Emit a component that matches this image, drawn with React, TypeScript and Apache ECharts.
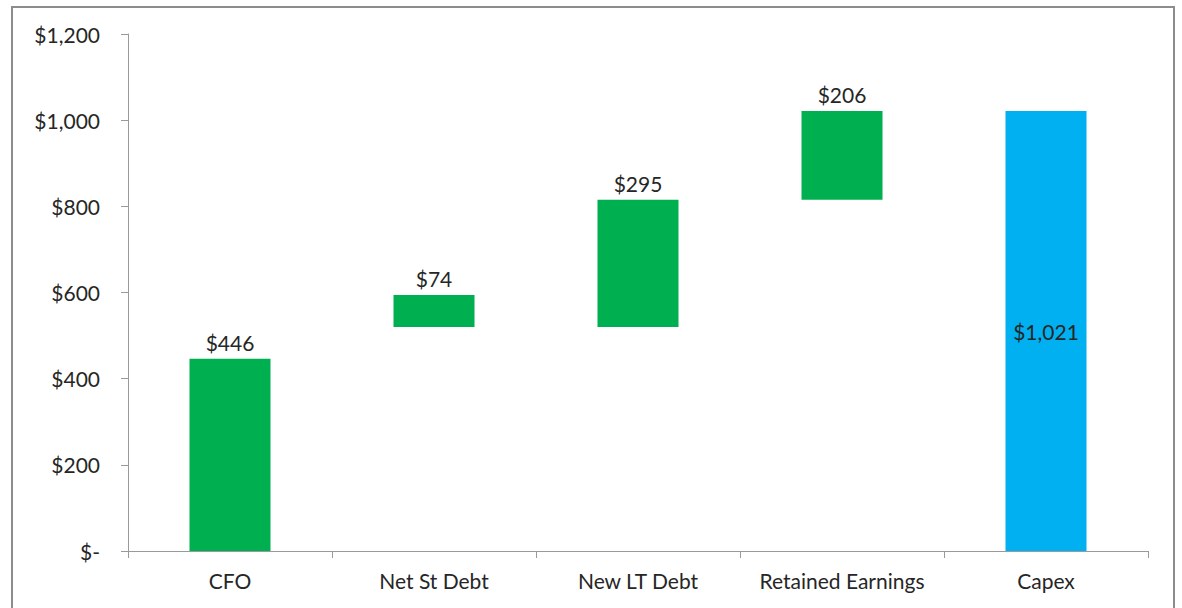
import React, { useEffect, useRef } from "react";
import * as echarts from "echarts";

const categories = ["CFO", "Net St Debt", "New LT Debt", "Retained Earnings", "Capex"];
const baseValues = [0, 520, 520, 815, 0];
const barValues = [446, 74, 295, 206, 1021];
const barColors = ["#00B050", "#00B050", "#00B050", "#00B050", "#00B0F0"];
const labelPositions = ["top", "top", "top", "top", "inside"];

const fmt = (v: number) => (v === 0 ? "$-" : "$" + v.toLocaleString("en-US"));

export default function App() {
  const ref = useRef<HTMLDivElement>(null);
  useEffect(() => {
    document.body.style.margin = "0";
    const chart = echarts.init(ref.current!, null, { renderer: "svg" });
    const font = "Lato, 'Open Sans', sans-serif";
    const fs = 21;
    chart.setOption({
      animation: false,
      backgroundColor: "#ffffff",
      textStyle: { fontFamily: font },
      graphic: [
        {
          type: "rect",
          shape: { x: 12, y: 7, width: 1162, height: 620 },
          style: { fill: "none", stroke: "#8c8c8c", lineWidth: 2 },
          silent: true,
        },
      ],
      grid: { left: 128, right: 34, top: 34, bottom: 57 },
      xAxis: {
        type: "category",
        data: categories,
        axisLine: { lineStyle: { color: "#9a9a9a", width: 1 } },
        axisTick: {
          show: true,
          interval: 0,
          length: 7,
          alignWithLabel: false,
          lineStyle: { color: "#9a9a9a" },
        },
        axisLabel: {
          interval: 0,
          hideOverlap: false,
          color: "#262626",
          fontSize: fs,
          fontFamily: font,
          margin: 19,
        },
      },
      yAxis: {
        type: "value",
        min: 0,
        max: 1200,
        interval: 200,
        splitLine: { show: false },
        axisLine: { show: true, lineStyle: { color: "#9a9a9a", width: 1 } },
        axisTick: { show: true, length: 7, lineStyle: { color: "#9a9a9a" } },
        axisLabel: {
          color: "#262626",
          fontSize: fs,
          fontFamily: font,
          margin: 28,
          formatter: (v: number) => fmt(v),
        },
      },
      series: [
        {
          type: "bar",
          stack: "w",
          data: baseValues,
          barWidth: 81,
          itemStyle: { color: "transparent" },
          emphasis: { disabled: true },
          silent: true,
        },
        {
          type: "bar",
          stack: "w",
          barWidth: 81,
          data: barValues.map((v, i) => ({
            value: v,
            itemStyle: { color: barColors[i] },
            label: {
              show: true,
              position: labelPositions[i],
              distance: 6,
              color: "#262626",
              fontSize: fs,
              fontFamily: font,
              formatter: () => fmt(v),
            },
          })),
        },
      ],
    });
    return () => chart.dispose();
  }, []);
  return (
    <div
      ref={ref}
      style={{ position: "fixed", left: 0, top: 0, width: 1182, height: 608 }}
    />
  );
}
